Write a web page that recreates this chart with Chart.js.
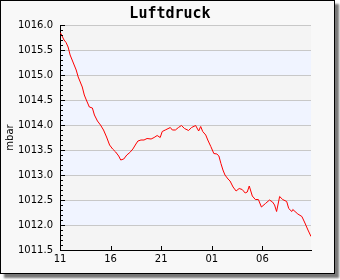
<!DOCTYPE html>
<html>
<head>
<meta charset="utf-8">
<script src="https://cdn.jsdelivr.net/npm/chart.js@4/dist/chart.umd.min.js"></script>
<style>
  html, body { margin: 0; padding: 0; background: #fff; }
  #wrap { position: relative; width: 340px; height: 280px; }
  #frame { position: absolute; left: 0; top: 0; width: 333px; height: 272px;
           border: 1px solid #000; background: #f8f8f8; box-shadow: 4px 4px 2px #777; }
  #c { position: absolute; left: 0; top: 0; }
</style>
</head>
<body>
<div id="wrap"><div id="frame"></div><canvas id="c" width="340" height="280"></canvas></div>
<script>
// Hours after 11:00 and pressure readings (mbar)
const hours = [0, 0.1, 0.3, 0.4, 0.6, 0.8, 1.0, 1.2, 1.4, 1.6, 1.8, 2.0, 2.2, 2.4, 2.6, 2.9,
  3.2, 3.4, 3.7, 4.0, 4.3, 4.6, 4.9, 5.2, 5.5, 5.8, 6.0, 6.3, 6.6, 6.9, 7.2, 7.5, 7.7,
  8.0, 8.3, 8.6, 9.0, 9.3, 9.6, 9.9, 10.1, 10.4, 10.9, 11.1, 11.4, 11.7, 12.0, 12.3,
  12.7, 13.0, 13.4, 13.7, 13.9, 14.1, 14.4, 14.6, 14.9, 15.2, 15.5, 15.7, 15.9, 16.1,
  16.3, 16.6, 16.8, 17.1, 17.4, 17.7, 18.0, 18.3, 18.5, 18.7, 19.0, 19.3, 19.6, 19.9,
  20.3, 20.7, 21.0, 21.2, 21.4, 21.7, 22.0, 22.4, 22.6, 22.9, 23.0, 23.5, 23.9, 24.2,
  24.5, 24.8];
const pressure = [1015.84, 1015.83, 1015.74, 1015.70, 1015.65, 1015.56, 1015.40, 1015.30,
  1015.20, 1015.10, 1014.96, 1014.86, 1014.76, 1014.60, 1014.50, 1014.36, 1014.34, 1014.20,
  1014.08, 1014.00, 1013.90, 1013.76, 1013.60, 1013.52, 1013.46, 1013.38, 1013.30, 1013.32,
  1013.40, 1013.45, 1013.52, 1013.62, 1013.68, 1013.70, 1013.70, 1013.73, 1013.72, 1013.75,
  1013.79, 1013.75, 1013.87, 1013.90, 1013.95, 1013.90, 1013.90, 1013.95, 1013.99, 1013.93,
  1013.89, 1013.95, 1013.99, 1013.88, 1013.97, 1013.87, 1013.80, 1013.70, 1013.57, 1013.43,
  1013.42, 1013.38, 1013.23, 1013.10, 1013.00, 1012.92, 1012.88, 1012.76, 1012.68, 1012.73,
  1012.71, 1012.64, 1012.66, 1012.78, 1012.58, 1012.51, 1012.51, 1012.36, 1012.43, 1012.50,
  1012.46, 1012.40, 1012.27, 1012.57, 1012.51, 1012.47, 1012.33, 1012.27, 1012.31, 1012.22,
  1012.17, 1012.04, 1011.90, 1011.77];

// X axis ticks
const xTickHours = [0, 5, 10, 15, 20];
const xTickLabels = ["11", "16", "21", "01", "06"];

const yMin = 1011.5;
const yMax = 1016.0;
const chartTitle = 'Luftdruck';

// alternating background bands behind the grid
const bands = {
  id: 'bands',
  beforeDraw(chart) {
    const { ctx, chartArea: a, scales: { y } } = chart;
    ctx.save();
    for (let i = 0; i < 9; i++) {
      const lo = yMin + i * 0.5;
      const top = Math.round(y.getPixelForValue(lo + 0.5));
      const bot = Math.round(y.getPixelForValue(lo));
      ctx.fillStyle = i % 2 === 0 ? '#f4f4f4' : '#f0f4ff';
      ctx.fillRect(a.left, top, a.right - a.left, bot - top);
    }
    ctx.restore();
  }
};

// inside tick marks (major + minor on y) and the centred title
const tickMarks = {
  id: 'tickMarks',
  afterDatasetsDraw(chart) {
    const { ctx, chartArea: a, scales: { x, y } } = chart;
    ctx.save();
    ctx.strokeStyle = '#000';
    ctx.lineWidth = 1;
    ctx.beginPath();
    for (let i = 0; i <= 45; i++) {
      const py = Math.round(y.getPixelForValue(yMin + i * 0.1)) + 0.5;
      const len = i % 5 === 0 ? 5 : 3;
      ctx.moveTo(a.left, py);
      ctx.lineTo(a.left + len, py);
    }
    xTickHours.forEach(h => {
      const px = Math.round(x.getPixelForValue(h)) + 0.5;
      ctx.moveTo(px, a.bottom);
      ctx.lineTo(px, a.bottom - 4);
    });
    ctx.stroke();

    ctx.fillStyle = '#000';
    ctx.font = 'bold 15px "DejaVu Sans Mono"';
    ctx.textAlign = 'center';
    ctx.textBaseline = 'middle';
    ctx.fillText(chartTitle, 170, 14);
    ctx.restore();
  }
};

const tickFont = { family: 'DejaVu Sans', size: 10 };

new Chart(document.getElementById('c'), {
  type: 'line',
  data: {
    datasets: [{
      data: hours.map((h, i) => ({ x: h, y: pressure[i] })),
      borderColor: '#ff0000',
      borderWidth: 1,
      pointRadius: 0,
      tension: 0
    }]
  },
  options: {
    responsive: false,
    animation: false,
    layout: { padding: { left: 0, right: 29, top: 25, bottom: 10 } },
    plugins: {
      legend: { display: false },
      tooltip: { enabled: false },
      title: { display: false }
    },
    scales: {
      x: {
        type: 'linear',
        min: 0,
        max: 24.8,
        afterBuildTicks: s => { s.ticks = xTickHours.map(v => ({ value: v })); },
        afterFit: s => { s.height = 20; },
        ticks: {
          color: '#000',
          font: tickFont,
          padding: 3,
          maxRotation: 0,
          callback: (v, i) => xTickLabels[i]
        },
        grid: { display: false, drawTicks: false },
        border: { display: true, color: '#000', width: 1 }
      },
      y: {
        min: yMin,
        max: yMax,
        afterFit: s => { s.width = 60; },
        ticks: {
          stepSize: 0.5,
          color: '#000',
          font: tickFont,
          padding: 7,
          callback: v => v.toFixed(1)
        },
        grid: { color: '#c8c8c8', lineWidth: 1, drawTicks: false },
        border: { display: true, color: '#000', width: 1 },
        title: {
          display: true,
          text: 'mbar',
          color: '#000',
          font: { family: 'DejaVu Sans', size: 10 },
          padding: { top: 4, bottom: 0 }
        }
      }
    }
  },
  plugins: [bands, tickMarks]
});
</script>
</body>
</html>
